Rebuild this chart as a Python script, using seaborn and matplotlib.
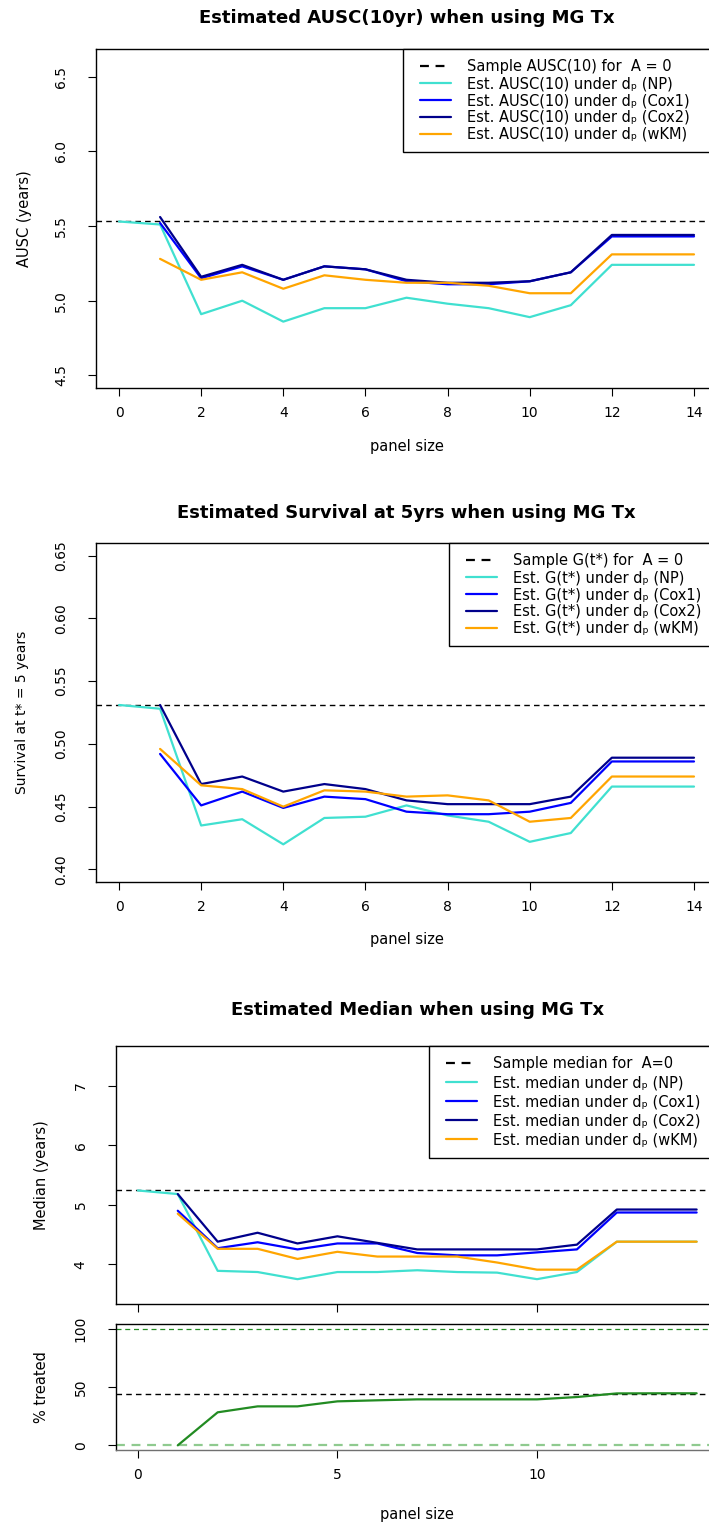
import numpy as np
import pandas as pd
import matplotlib
matplotlib.use("Agg")
import matplotlib.pyplot as plt
from matplotlib.lines import Line2D
from matplotlib.legend_handler import HandlerLine2D
import seaborn as sns

# ---- data -------------------------------------------------------------
panel_size = list(range(15))
methods = ["NP", "Cox1", "Cox2", "wKM"]
method_colors = {"NP": "#40E0D0", "Cox1": "#0000FF", "Cox2": "#00008B", "wKM": "#FFA500"}
nan = np.nan

ausc_sample = 5.53
ausc_np = [5.53, 5.51, 4.91, 5.00, 4.86, 4.95, 4.95, 5.02, 4.98, 4.95, 4.89, 4.97, 5.24, 5.24, 5.24]
ausc_cox1 = [nan, 5.52, 5.15, 5.23, 5.14, 5.23, 5.21, 5.13, 5.11, 5.11, 5.13, 5.19, 5.43, 5.43, 5.43]
ausc_cox2 = [nan, 5.56, 5.16, 5.24, 5.14, 5.23, 5.21, 5.14, 5.12, 5.12, 5.13, 5.19, 5.44, 5.44, 5.44]
ausc_wkm = [nan, 5.28, 5.14, 5.19, 5.08, 5.17, 5.14, 5.12, 5.12, 5.10, 5.05, 5.05, 5.31, 5.31, 5.31]

surv_sample = 0.531
surv_np = [0.531, 0.528, 0.435, 0.440, 0.420, 0.441, 0.442, 0.451, 0.443, 0.438, 0.422, 0.429, 0.466, 0.466, 0.466]
surv_cox1 = [nan, 0.492, 0.451, 0.462, 0.449, 0.458, 0.456, 0.446, 0.444, 0.444, 0.446, 0.453, 0.486, 0.486, 0.486]
surv_cox2 = [nan, 0.531, 0.468, 0.474, 0.462, 0.468, 0.464, 0.455, 0.452, 0.452, 0.452, 0.458, 0.489, 0.489, 0.489]
surv_wkm = [nan, 0.496, 0.467, 0.464, 0.450, 0.463, 0.462, 0.458, 0.459, 0.455, 0.438, 0.441, 0.474, 0.474, 0.474]

med_sample = 5.24
med_np = [5.24, 5.18, 3.89, 3.87, 3.75, 3.87, 3.87, 3.90, 3.87, 3.86, 3.75, 3.87, 4.38, 4.38, 4.38]
med_cox1 = [nan, 4.90, 4.27, 4.37, 4.25, 4.35, 4.35, 4.19, 4.15, 4.15, 4.20, 4.25, 4.87, 4.87, 4.87]
med_cox2 = [nan, 5.18, 4.38, 4.53, 4.35, 4.47, 4.36, 4.25, 4.25, 4.25, 4.25, 4.33, 4.92, 4.92, 4.92]
med_wkm = [nan, 4.85, 4.26, 4.26, 4.09, 4.21, 4.13, 4.13, 4.13, 4.03, 3.91, 3.91, 4.38, 4.38, 4.38]

pct_sample = 44.3
pct_treated = [nan, 0.0, 28.3, 33.4, 33.4, 37.7, 38.6, 39.4, 39.4, 39.4, 39.4, 41.4, 44.5, 44.6, 44.6]

ausc_ticks = [4.5, 5.0, 5.5, 6.0, 6.5]
surv_ticks = [0.40, 0.45, 0.50, 0.55, 0.60, 0.65]
med_ticks = [4, 5, 6, 7]
pct_ticks = [0, 50, 100]

# ---- style ------------------------------------------------------------
sns.set_style("ticks")
plt.rcParams["font.family"] = ["DejaVu Sans", "Noto Sans"]
plt.rcParams["axes.edgecolor"] = "black"
plt.rcParams["axes.linewidth"] = 1.0
plt.rcParams["xtick.color"] = "black"
plt.rcParams["ytick.color"] = "black"
plt.rcParams["text.color"] = "black"
plt.rcParams["axes.labelcolor"] = "black"

W, H = 709, 1528
fig = plt.figure(figsize=(W / 100, H / 100), dpi=100)


def px_axes(left, top, right, bottom):
    return fig.add_axes([left / W, 1 - bottom / H, (right - left) / W, (bottom - top) / H])


def long_frame(series):
    rows = []
    for name, vals in series.items():
        for x, y in zip(panel_size, vals):
            if not np.isnan(y):
                rows.append({"panel size": x, "value": y, "method": name})
    return pd.DataFrame(rows)


def style_axes(ax, yticks, yfmt, xticks, show_xlabels=True, tick_fs=10):
    ax.set_yticks(yticks)
    ax.set_yticklabels([yfmt.format(v) for v in yticks], rotation=90, va="center")
    ax.set_xticks(xticks)
    if show_xlabels:
        ax.set_xticklabels([str(v) for v in xticks])
    else:
        ax.set_xticklabels([])
    ax.tick_params(axis="both", direction="out", length=6, width=0.8, labelsize=tick_fs)
    ax.tick_params(axis="x", pad=7)
    ax.tick_params(axis="y", pad=14)
    for s in ax.spines.values():
        s.set_visible(True)
        s.set_linewidth(1.0)


def summary_panel(ax, sample, sample_label, series, label_stem, ylim, legend_left,
                  fs=10.5, spacing=0.13):
    ax.axhline(sample, color="black", lw=1.0, ls=(0, (4, 3)), label=sample_label)
    df = long_frame(series)
    for name in methods:
        sub = df[df["method"] == name]
        label = label_stem + " d\u209a (" + name + ")"
        sns.lineplot(data=sub, x="panel size", y="value", color=method_colors[name],
                     lw=1.6, label=label, ax=ax, estimator=None, sort=True)
    ax.set_xlim(-0.56, 14.56)
    ax.set_ylim(*ylim)
    leg = ax.legend(loc="upper left", bbox_to_anchor=(legend_left, 0, 1 - legend_left, 1),
                    mode="expand", borderaxespad=0, frameon=True, fancybox=False,
                    edgecolor="black", framealpha=1, fontsize=fs, handlelength=2.6,
                    handletextpad=1.1, borderpad=0.7, labelspacing=spacing,
                    handler_map={Line2D: HandlerLine2D(xpad=0.47)})
    leg.get_frame().set_linewidth(1.0)
    for line in leg.get_lines():
        line.set_linewidth(1.6)


# ---- panel 1: AUSC ------------------------------------------------------
ax1 = px_axes(96, 49, 717, 388)
summary_panel(ax1, ausc_sample, "Sample AUSC(10) for  A = 0",
              {"NP": ausc_np, "Cox1": ausc_cox1, "Cox2": ausc_cox2, "wKM": ausc_wkm},
              "Est. AUSC(10) under", (4.416, 6.684), 0.494)
style_axes(ax1, ausc_ticks, "{:.1f}", list(range(0, 15, 2)))
ax1.set_title("Estimated AUSC(10yr) when using MG Tx", fontsize=13, fontweight="bold", pad=19)
ax1.set_xlabel("panel size", fontsize=10.5)
ax1.set_ylabel("AUSC (years)", fontsize=10.5)
ax1.xaxis.set_label_coords(0.5, -0.150)
ax1.yaxis.set_label_coords(-0.103, 0.5)

# ---- panel 2: survival at 5 years ---------------------------------------
ax2 = px_axes(96, 543, 717, 882)
summary_panel(ax2, surv_sample, "Sample G(t*) for  A = 0",
              {"NP": surv_np, "Cox1": surv_cox1, "Cox2": surv_cox2, "wKM": surv_wkm},
              "Est. G(t*) under", (0.39, 0.66), 0.568)
style_axes(ax2, surv_ticks, "{:.2f}", list(range(0, 15, 2)))
ax2.set_title("Estimated Survival at 5yrs when using MG Tx", fontsize=13, fontweight="bold", pad=18)
ax2.set_xlabel("panel size", fontsize=10.5)
ax2.set_ylabel("Survival at t* = 5 years", fontsize=10)
ax2.xaxis.set_label_coords(0.5, -0.1475)
ax2.yaxis.set_label_coords(-0.108, 0.5)

# ---- panel 3: median ------------------------------------------------------
ax3 = px_axes(115.5, 1046, 719, 1304)
summary_panel(ax3, med_sample, "Sample median for  A=0",
              {"NP": med_np, "Cox1": med_cox1, "Cox2": med_cox2, "wKM": med_wkm},
              "Est. median under", (3.333, 7.667), 0.52, spacing=0.28)
style_axes(ax3, med_ticks, "{:d}", [0, 5, 10], show_xlabels=False)
ax3.set_title("Estimated Median when using MG Tx", fontsize=13, fontweight="bold", pad=22)
ax3.set_xlabel("")
ax3.set_ylabel("Median (years)", fontsize=10.5)
ax3.yaxis.set_label_coords(-0.110, 0.5)

# ---- panel 4: percentage treated ----------------------------------------
ax4 = px_axes(115.5, 1324, 719, 1450)
ax4.axhline(100, color="#228B22", lw=0.9, ls=(0, (4, 3)))
ax4.axhline(0, color="#8fca8f", lw=1.6, ls=(0, (4, 3)))
ax4.axhline(pct_sample, color="black", lw=1.0, ls=(0, (4, 3)))
pct_df = pd.DataFrame({"panel size": panel_size, "treated": pct_treated}).dropna()
sns.lineplot(data=pct_df, x="panel size", y="treated", color="#228B22", lw=1.6, ax=ax4,
             estimator=None)
ax4.set_xlim(-0.56, 14.56)
ax4.set_ylim(-4, 104)
style_axes(ax4, pct_ticks, "{:d}", [0, 5, 10])
ax4.spines["bottom"].set_color("#707070")
ax4.set_xlabel("panel size", fontsize=10.5)
ax4.set_ylabel("% treated", fontsize=10.5)
ax4.xaxis.set_label_coords(0.5, -0.452)
ax4.yaxis.set_label_coords(-0.110, 0.5)

fig.savefig("out.png", dpi=100)
